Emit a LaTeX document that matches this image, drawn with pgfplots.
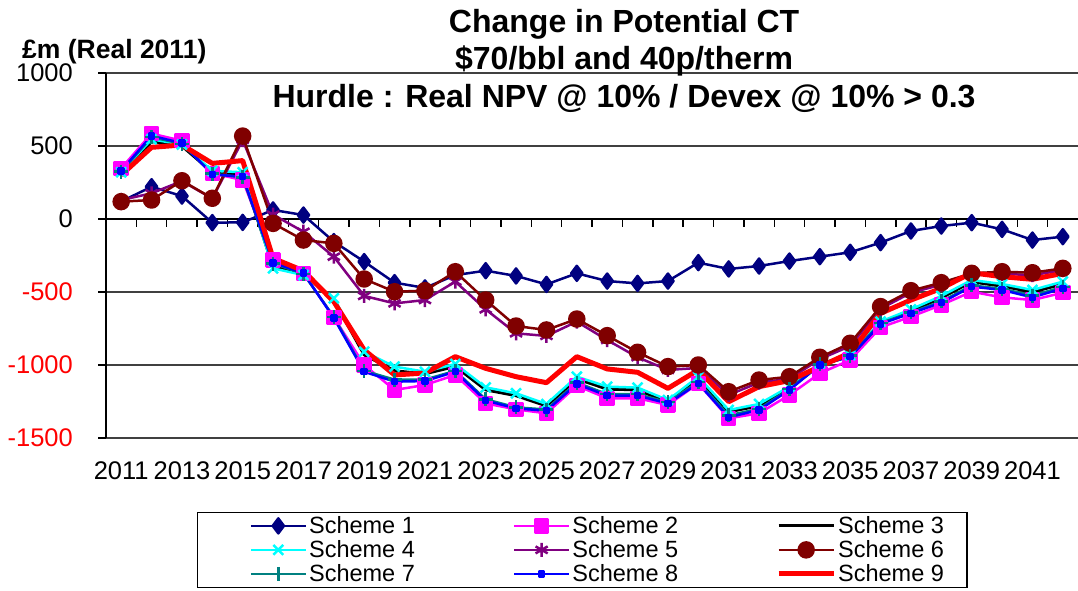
\documentclass[border=0pt]{standalone}
\usepackage{fontspec}
\setmainfont{Liberation Sans}
\usepackage{pgfplots}
\usepackage{pgfplotstable}
\pgfplotsset{compat=1.18}
\definecolor{sNavy}{RGB}{0,0,128}
\definecolor{sMag}{RGB}{255,0,255}
\definecolor{sCyan}{RGB}{0,255,255}
\definecolor{sPurp}{RGB}{128,0,128}
\definecolor{sBrown}{RGB}{128,0,0}
\definecolor{sTeal}{RGB}{0,128,128}
\definecolor{sBlue}{RGB}{0,0,255}
\definecolor{sRed}{RGB}{255,0,0}

\pgfplotsset{
  legend image code/.code={\draw[mark repeat=2,mark phase=2,#1] plot coordinates {(0pt,0pt) (27.5pt,0pt) (55pt,0pt)};},
  leftimg/.style={legend image code/.code={\path (-31pt,0pt); \draw[mark repeat=2,mark phase=2,##1] plot coordinates {(0pt,0pt) (27.5pt,0pt) (55pt,0pt)};}},
}

\pgfplotstableread{
year s1 s2 s3 s4 s5 s6 s7 s8 s9
2011 120 347 305 320 130 119 325 330 301
2012 221 585 530 546 176 130 560 570 491
2013 157 536 500 510 260 262 515 520 507
2014 -25 313 320 330 140 142 310 305 381
2015 -23 267 305 320 541 568 285 290 400
2016 62 -281 -325 -338 30 -30 -305 -300 -269
2017 27 -372 -370 -384 -87 -144 -375 -370 -355
2018 -155 -673 -555 -543 -258 -167 -670 -678 -566
2019 -292 -1000 -930 -909 -527 -411 -1040 -1046 -897
2020 -436 -1171 -1040 -1011 -578 -498 -1100 -1114 -1068
2021 -472 -1137 -1060 -1046 -555 -491 -1100 -1110 -1055
2022 -384 -1068 -1010 -993 -429 -361 -1040 -1046 -943
2023 -354 -1263 -1170 -1153 -619 -555 -1235 -1244 -1023
2024 -390 -1304 -1210 -1194 -783 -733 -1290 -1297 -1080
2025 -448 -1331 -1280 -1267 -801 -760 -1305 -1313 -1121
2026 -372 -1142 -1095 -1080 -703 -685 -1120 -1130 -943
2027 -425 -1228 -1165 -1148 -829 -799 -1200 -1210 -1027
2028 -441 -1228 -1170 -1155 -947 -913 -1200 -1210 -1050
2029 -425 -1274 -1255 -1240 -1034 -1011 -1255 -1263 -1160
2030 -299 -1126 -1095 -1080 -1020 -1000 -1115 -1126 -1034
2031 -342 -1365 -1320 -1308 -1205 -1183 -1345 -1358 -1251
2032 -322 -1331 -1280 -1267 -1120 -1103 -1300 -1308 -1148
2033 -288 -1205 -1160 -1148 -1095 -1080 -1165 -1171 -1107
2034 -258 -1057 -1000 -989 -960 -947 -995 -1000 -1011
2035 -228 -966 -940 -932 -870 -851 -935 -943 -916
2036 -162 -742 -715 -703 -615 -600 -712 -719 -646
2037 -82 -669 -630 -619 -505 -491 -640 -646 -555
2038 -48 -589 -540 -527 -450 -436 -565 -573 -475
2039 -25 -498 -430 -418 -385 -372 -455 -463 -368
2040 -71 -537 -460 -445 -375 -361 -478 -486 -395
2041 -144 -555 -500 -486 -385 -368 -525 -537 -413
2042 -121 -505 -445 -429 -350 -338 -465 -475 -372
}\datatable

\begin{document}
\begin{tikzpicture}
\begin{axis}[
  scale only axis, width=972pt, height=365pt,
  xmin=2010.5, xmax=2042.5, ymin=-1500, ymax=1000,
  axis y line*=left, axis x line*=bottom,
  x axis line style={draw=none},
  y axis line style={line width=1.5pt, black},
  tick align=outside, major tick length=8pt,
  xtick={2011,2013,...,2041},
  xticklabels={2011,2013,2015,2017,2019,2021,2023,2025,2027,2029,2031,2033,2035,2037,2039,2041},
  xtick style={draw=none},
  ytick={-1500,-1000,-500,0,500,1000},
  yticklabels={\textcolor{red}{-1500},\textcolor{red}{-1000},\textcolor{red}{-500},0,500,1000},
  ytick style={line width=1.5pt, black},
  ymajorgrids, major grid style={line width=1.2pt, black!75},
  tick label style={font=\fontsize{25.5}{30}\selectfont, inner sep=0pt},
  y tick label style={anchor=east, xshift=-25pt},
  x tick label style={anchor=north, yshift=-15pt},
  title={Change in Potential CT\\\$70/bbl and 40p/therm\\Hurdle : Real NPV @ 10\% / Devex @ 10\% > 0.3},
  title style={at={(0.533,1.1589)}, anchor=north, align=center, inner sep=0pt,
    font=\bfseries\fontsize{32}{37.5}\selectfont},
  legend columns=3,
  legend cell align=left,
  legend style={at={(0.0936,-0.2027)}, anchor=north west, draw=black, line width=1.2pt,
    font=\fontsize{23.5}{25}\selectfont, inner xsep=21pt, inner ysep=2pt,
    /tikz/every even column/.append style={column sep=96pt}, row sep=1.5pt},
  clip=false,
  every axis plot/.append style={line join=round},
]
\pgfplotsinvokeforeach{2011.5,2012.5,...,2041.5}{
  \draw[black, line width=1.5pt] (axis cs:#1,0) -- ++(0pt,-8pt);
}
\draw[black, line width=1.5pt] (axis cs:2010.5,0) -- (axis cs:2042.5,0);
\addplot[sNavy, line width=2.5pt, mark=diamond*, mark size=7.5pt, mark options={solid, fill=sNavy}, leftimg]
  table[x=year, y=s1] {\datatable};
\addlegendentry{Scheme 1}
\addplot[sMag, line width=2.5pt, mark=square*, mark size=6.5pt, mark options={solid, fill=sMag}]
  table[x=year, y=s2] {\datatable};
\addlegendentry{Scheme 2}
\addplot[black, line width=3pt]
  table[x=year, y=s3] {\datatable};
\addlegendentry{Scheme 3}
\addplot[sCyan, line width=2.5pt, mark=x, mark size=7pt, leftimg]
  table[x=year, y=s4] {\datatable};
\addlegendentry{Scheme 4}
\addplot[sPurp, line width=2.5pt, mark=asterisk, mark size=7pt]
  table[x=year, y=s5] {\datatable};
\addlegendentry{Scheme 5}
\addplot[sBrown, line width=2.5pt, mark=*, mark size=7.5pt, mark options={solid, fill=sBrown}]
  table[x=year, y=s6] {\datatable};
\addlegendentry{Scheme 6}
\addplot[sTeal, line width=2.5pt, mark=+, mark size=7pt, leftimg]
  table[x=year, y=s7] {\datatable};
\addlegendentry{Scheme 7}
\addplot[sBlue, line width=2.5pt, mark=square*, mark size=2.5pt, mark options={solid, fill=sBlue}]
  table[x=year, y=s8] {\datatable};
\addlegendentry{Scheme 8}
\addplot[sRed, line width=5pt]
  table[x=year, y=s9] {\datatable};
\addlegendentry{Scheme 9}
\node[anchor=north west, inner sep=0pt, font=\bfseries\fontsize{26.5}{30}\selectfont] at (rel axis cs:-0.0864,1.093) {£m (Real 2011)};
\end{axis}
\pgfresetboundingbox
\path (-106pt,-152pt) rectangle (972pt,438pt);
\end{tikzpicture}
\end{document}
